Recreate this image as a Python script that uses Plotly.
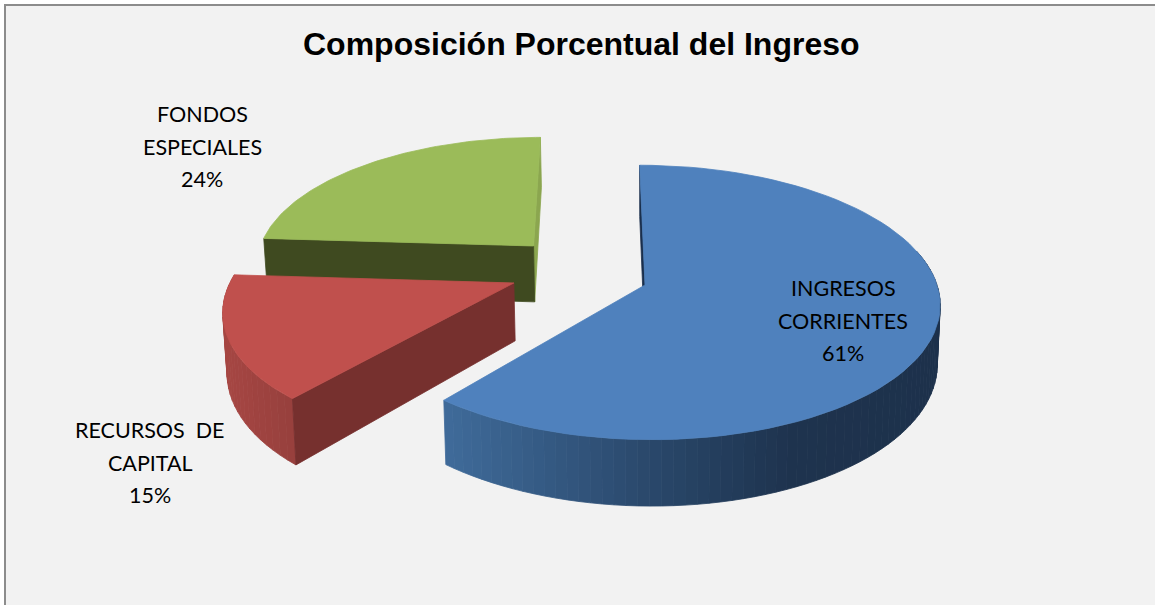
import math
import plotly.graph_objects as go

TITLE = "Composición Porcentual del Ingreso"
categories = ["INGRESOS CORRIENTES", "RECURSOS DE CAPITAL", "FONDOS ESPECIALES"]
values = [61, 15, 24]
label_lines = [["INGRESOS", "CORRIENTES", "61%"], ["RECURSOS  DE", "CAPITAL", "15%"], ["FONDOS", "ESPECIALES", "24%"]]
label_pos = [(843, 288), (150, 430), (202, 114)]
top_colors = ["#4f81bd", "#c0504d", "#9bbb59"]
radial_colors = ["#1a2f4c", "#76302e", "#3f4a20"]
green_sliver = "#8ba64f"
blue_stops = [(445, "#3f6b9a"), (650, "#2a486b"), (790, "#1e334e"), (950, "#1d314b")]
red_stops = [(215, "#a84744"), (300, "#953f3c")]
explode = [(0.0, 0.0), (-0.45, -0.015), (-0.39, -0.30)]
radius = [1.0, 0.975, 0.97]
persp = [0.127, 0.17, 0.127]

X0, Y0, A, B, D, EPS, SHEAR = 645, 285, 292, 135, 58, 0.01, 6


def proj(i, U, V, low=False):
    w = 1 / (1 - persp[i] * V)
    x = X0 + A * U * w + SHEAR * V * w
    y = Y0 + B * V * w
    if low:
        x = X0 + (x - X0) * (1 - EPS)
        y += D * w
    return x, y


def rim(i, ang, low=False):
    ex, ey = explode[i]
    r = math.radians(ang)
    return proj(i, ex + radius[i] * math.sin(r), ey - radius[i] * math.cos(r), low)


def apex(i, low=False):
    return proj(i, explode[i][0], explode[i][1], low)


def mix(c1, c2, t):
    a = [int(c1[j:j + 2], 16) for j in (1, 3, 5)]
    b = [int(c2[j:j + 2], 16) for j in (1, 3, 5)]
    return "#%02x%02x%02x" % tuple(round(p + (q - p) * t) for p, q in zip(a, b))


def ramp(stops, x):
    if x <= stops[0][0]:
        return stops[0][1]
    for (x0, c0), (x1, c1) in zip(stops, stops[1:]):
        if x <= x1:
            return mix(c0, c1, (x - x0) / (x1 - x0))
    return stops[-1][1]


def poly(fig, pts, color):
    xs = [p[0] for p in pts] + [pts[0][0]]
    ys = [p[1] for p in pts] + [pts[0][1]]
    fig.add_trace(go.Scatter(x=xs, y=ys, mode="lines", fill="toself", fillcolor=color,
                             line=dict(color=color, width=0.8), hoverinfo="skip", showlegend=False))


def wall(fig, i, t_from, t_to, n, stops):
    for k in range(n):
        t0 = t_from + (t_to - t_from) * k / n
        t1 = t_from + (t_to - t_from) * (k + 1) / n
        mid = rim(i, (t0 + t1) / 2)[0]
        poly(fig, [rim(i, t0), rim(i, t1), rim(i, t1, True), rim(i, t0, True)], ramp(stops, mid))


fig = go.Figure()
total = sum(values)
starts, s = [], 0.0
for v in values:
    starts.append(s)
    s += 360 * v / total

for i in (2, 1, 0):
    a0, a1 = starts[i], starts[i] + 360 * values[i] / total
    if i == 2:
        poly(fig, [apex(i), rim(i, a1), rim(i, a1, True), apex(i, True)], green_sliver)
        poly(fig, [apex(i), rim(i, a0), rim(i, a0, True), apex(i, True)], radial_colors[i])
    elif i == 1:
        wall(fig, i, a0, a1, 24, red_stops)
        poly(fig, [apex(i), rim(i, a0), rim(i, a0, True), apex(i, True)], radial_colors[i])
    else:
        poly(fig, [apex(i), rim(i, a0), rim(i, a0, True), apex(i, True)], radial_colors[i])
        wall(fig, i, 75, a1, 70, blue_stops)
    m = 80
    pts = [apex(i)] + [rim(i, a0 + (a1 - a0) * k / m) for k in range(m + 1)]
    poly(fig, pts, top_colors[i])

annotations = [dict(x=581, y=44, text="<b>%s</b>" % TITLE, showarrow=False, xref="x", yref="y",
                    font=dict(family="Liberation Sans", size=32, color="#000000"))]
for lines, (lx, ly) in zip(label_lines, label_pos):
    for j, line in enumerate(lines):
        annotations.append(dict(x=lx, y=ly + j * 32.5, text=line, showarrow=False, xref="x", yref="y",
                                font=dict(family="Lato", size=21.5, color="#000000")))

fig.update_layout(
    width=1155, height=605, margin=dict(l=0, r=0, t=0, b=0), autosize=False,
    paper_bgcolor="#ffffff", plot_bgcolor="#ffffff", showlegend=False,
    xaxis=dict(range=[0, 1155], visible=False, fixedrange=True),
    yaxis=dict(range=[605, 0], visible=False, fixedrange=True),
    annotations=annotations,
    shapes=[dict(type="rect", xref="x", yref="y", x0=5, y0=5, x1=1170, y1=620, layer="below",
                 fillcolor="#f2f2f2", line=dict(color="#8c8c8c", width=2))],
)
fig.write_html("out.html", config=dict(displayModeBar=False),
               post_script="document.body.style.margin='0';document.documentElement.style.overflow='hidden';")
